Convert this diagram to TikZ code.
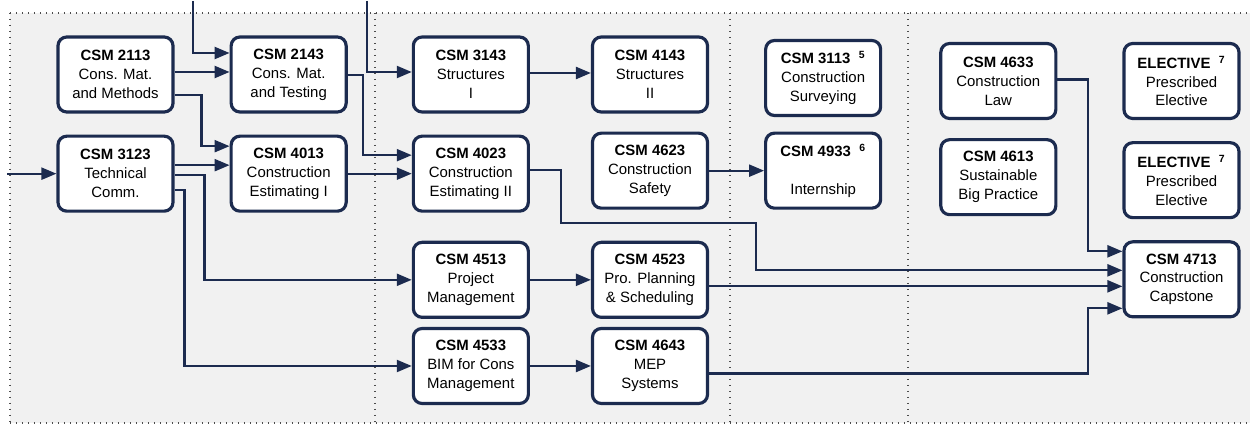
\documentclass[tikz,border=0pt]{standalone}
\usepackage{fontspec}
\setmainfont{Liberation Sans}
\usetikzlibrary{positioning,arrows.meta}
\definecolor{navy}{HTML}{1C2B4F}
\definecolor{panel}{HTML}{F1F1F1}

\begin{document}
\begin{tikzpicture}[
  node distance=0.42cm and 1.1cm,
  every node/.style={font=\fontsize{8.5}{10.8}\selectfont},
  course/.style={draw=navy, line width=1.8pt, rounded corners=5pt, fill=white, align=center, minimum width=2.3cm, minimum height=1.5cm, inner sep=1pt},
  link/.style={-{Triangle[length=0.3cm,width=0.24cm]}, draw=navy, line width=1.3pt},
  sep/.style={gray!60!black, line width=1.2pt, dash pattern=on 0.03cm off 0.09cm}
]
\useasboundingbox (0,0) rectangle (25,-8.52);

% Panel and term separators
\fill[panel] (0.2,-0.26) rectangle (25,-8.46);
\draw[sep] (0.2,-0.26) -- (25,-0.26);
\draw[sep] (0.2,-8.46) -- (25,-8.46);
\draw[sep] (0.2,-0.26) -- (0.2,-8.46);
\draw[sep] (7.5,-0.26) -- (7.5,-8.46);
\draw[sep] (14.6,-0.26) -- (14.6,-8.46);
\draw[sep] (18.16,-0.26) -- (18.16,-8.46);

% First column
\node[course] (c2113) at (2.31,-1.49) {\textbf{CSM 2113}\\Cons. Mat.\\and Methods};
\node[course, below=of c2113] (c3123) {\textbf{CSM 3123}\\Technical\\Comm.};

% Second column
\node[course, right=of c2113] (c2143) {\textbf{CSM 2143}\\Cons. Mat.\\and Testing};
\node[course, right=of c3123] (c4013) {\textbf{CSM 4013}\\Construction\\Estimating I};

% Third column
\node[course, right=1.28cm of c2143] (c3143) {\textbf{CSM 3143}\\Structures\\I};
\node[course, below=of c3143] (c4023) {\textbf{CSM 4023}\\Construction\\Estimating II};
\node[course, below=0.56cm of c4023] (c4513) {\textbf{CSM 4513}\\Project\\Management};
\node[course, below=0.16cm of c4513] (c4533) {\textbf{CSM 4533}\\BIM for Cons\\Management};

% Fourth column
\node[course, right=1.22cm of c3143] (c4143) {\textbf{CSM 4143}\\Structures\\II};
\node[course, right=1.22cm of c4023, yshift=0.06cm] (c4623) {\textbf{CSM 4623}\\Construction\\Safety};
\node[course, right=1.22cm of c4513] (c4523) {\textbf{CSM 4523}\\Pro. Planning\\\& Scheduling};
\node[course, right=1.22cm of c4533] (c4643) {\textbf{CSM 4643}\\MEP\\Systems};

% Summer
\node[course, right=of c4143, yshift=-0.07cm] (c3113) {\textbf{CSM 3113~~\textsuperscript{5}}\\Construction\\Surveying};
\node[course, right=of c4623] (c4933) {\textbf{CSM 4933~~\textsuperscript{6}}\\[10.8pt]Internship};

% Last term
\node[course, right=1.14cm of c3113, yshift=-0.06cm] (c4633) {\textbf{CSM 4633}\\Construction\\Law};
\node[course, below=0.36cm of c4633] (c4613) {\textbf{CSM 4613}\\Sustainable\\Big Practice};
\node[course, right=1.3cm of c4633] (elec1) {\textbf{ELECTIVE~~\textsuperscript{7}}\\Prescribed\\Elective};
\node[course, right=1.3cm of c4613, yshift=-0.06cm] (elec2) {\textbf{ELECTIVE~~\textsuperscript{7}}\\Prescribed\\Elective};
\node[course, below=of elec2] (c4713) {\textbf{CSM 4713}\\Construction\\Capstone};

% Free ends
\coordinate (in2143) at (3.86,-0.02);
\coordinate (in3143) at (7.34,-0.02);
\coordinate (in3123) at (0.14,-3.41);

% Arrows
\draw[link] (in2143) |- ([yshift=0.43cm]c2143.west);
\draw[link] ([yshift=0.05cm]c2113.east) -- ([yshift=0.05cm]c2143.west);
\draw[link] ([yshift=-0.41cm]c2113.east) -- ++(0.54,0) |- ([yshift=0.55cm]c4013.west);
\draw[link] ([yshift=0.17cm]c3123.east) -- ([yshift=0.17cm]c4013.west);
\draw[link] (c3123.west -| in3123) -- (c3123.west);
\draw[link] ([yshift=-0.01cm]c2143.east) -- ++(0.3,0) |- ([yshift=0.37cm]c4023.west);
\draw[link] (c4013.east) -- (c4023.west);
\draw[link] (in3143) |- ([yshift=0.05cm]c3143.west);
\draw[link] ([yshift=0.03cm]c3143.east) -- ([yshift=0.03cm]c4143.west);
\draw[link] ([yshift=-0.03cm]c3123.east) -- ++(0.6,0) |- (c4513.west);
\draw[link] ([yshift=-0.33cm]c3123.east) -- ++(0.2,0) |- (c4533.west);
\draw[link] (c4513) -- (c4523);
\draw[link] (c4533) -- (c4643);
\draw[link] (c4623) -- (c4933);
\draw[link] ([yshift=0.07cm]c4023.east) -- ++(0.62,0) -- ++(0,-1.06) -- ++(3.9,0) |- ([yshift=0.18cm]c4713.west);
\draw[link] ([yshift=0.03cm]c4633.east) -| ([xshift=-0.69cm,yshift=0.56cm]c4713.west) -- ([yshift=0.56cm]c4713.west);
\draw[link] ([yshift=-0.14cm]c4713.west -| c4523.east) -- ([yshift=-0.14cm]c4713.west);
\draw[link] ([yshift=-0.15cm]c4643.east) -| ([xshift=-0.69cm,yshift=-0.58cm]c4713.west) -- ([yshift=-0.58cm]c4713.west);

\end{tikzpicture}
\end{document}
